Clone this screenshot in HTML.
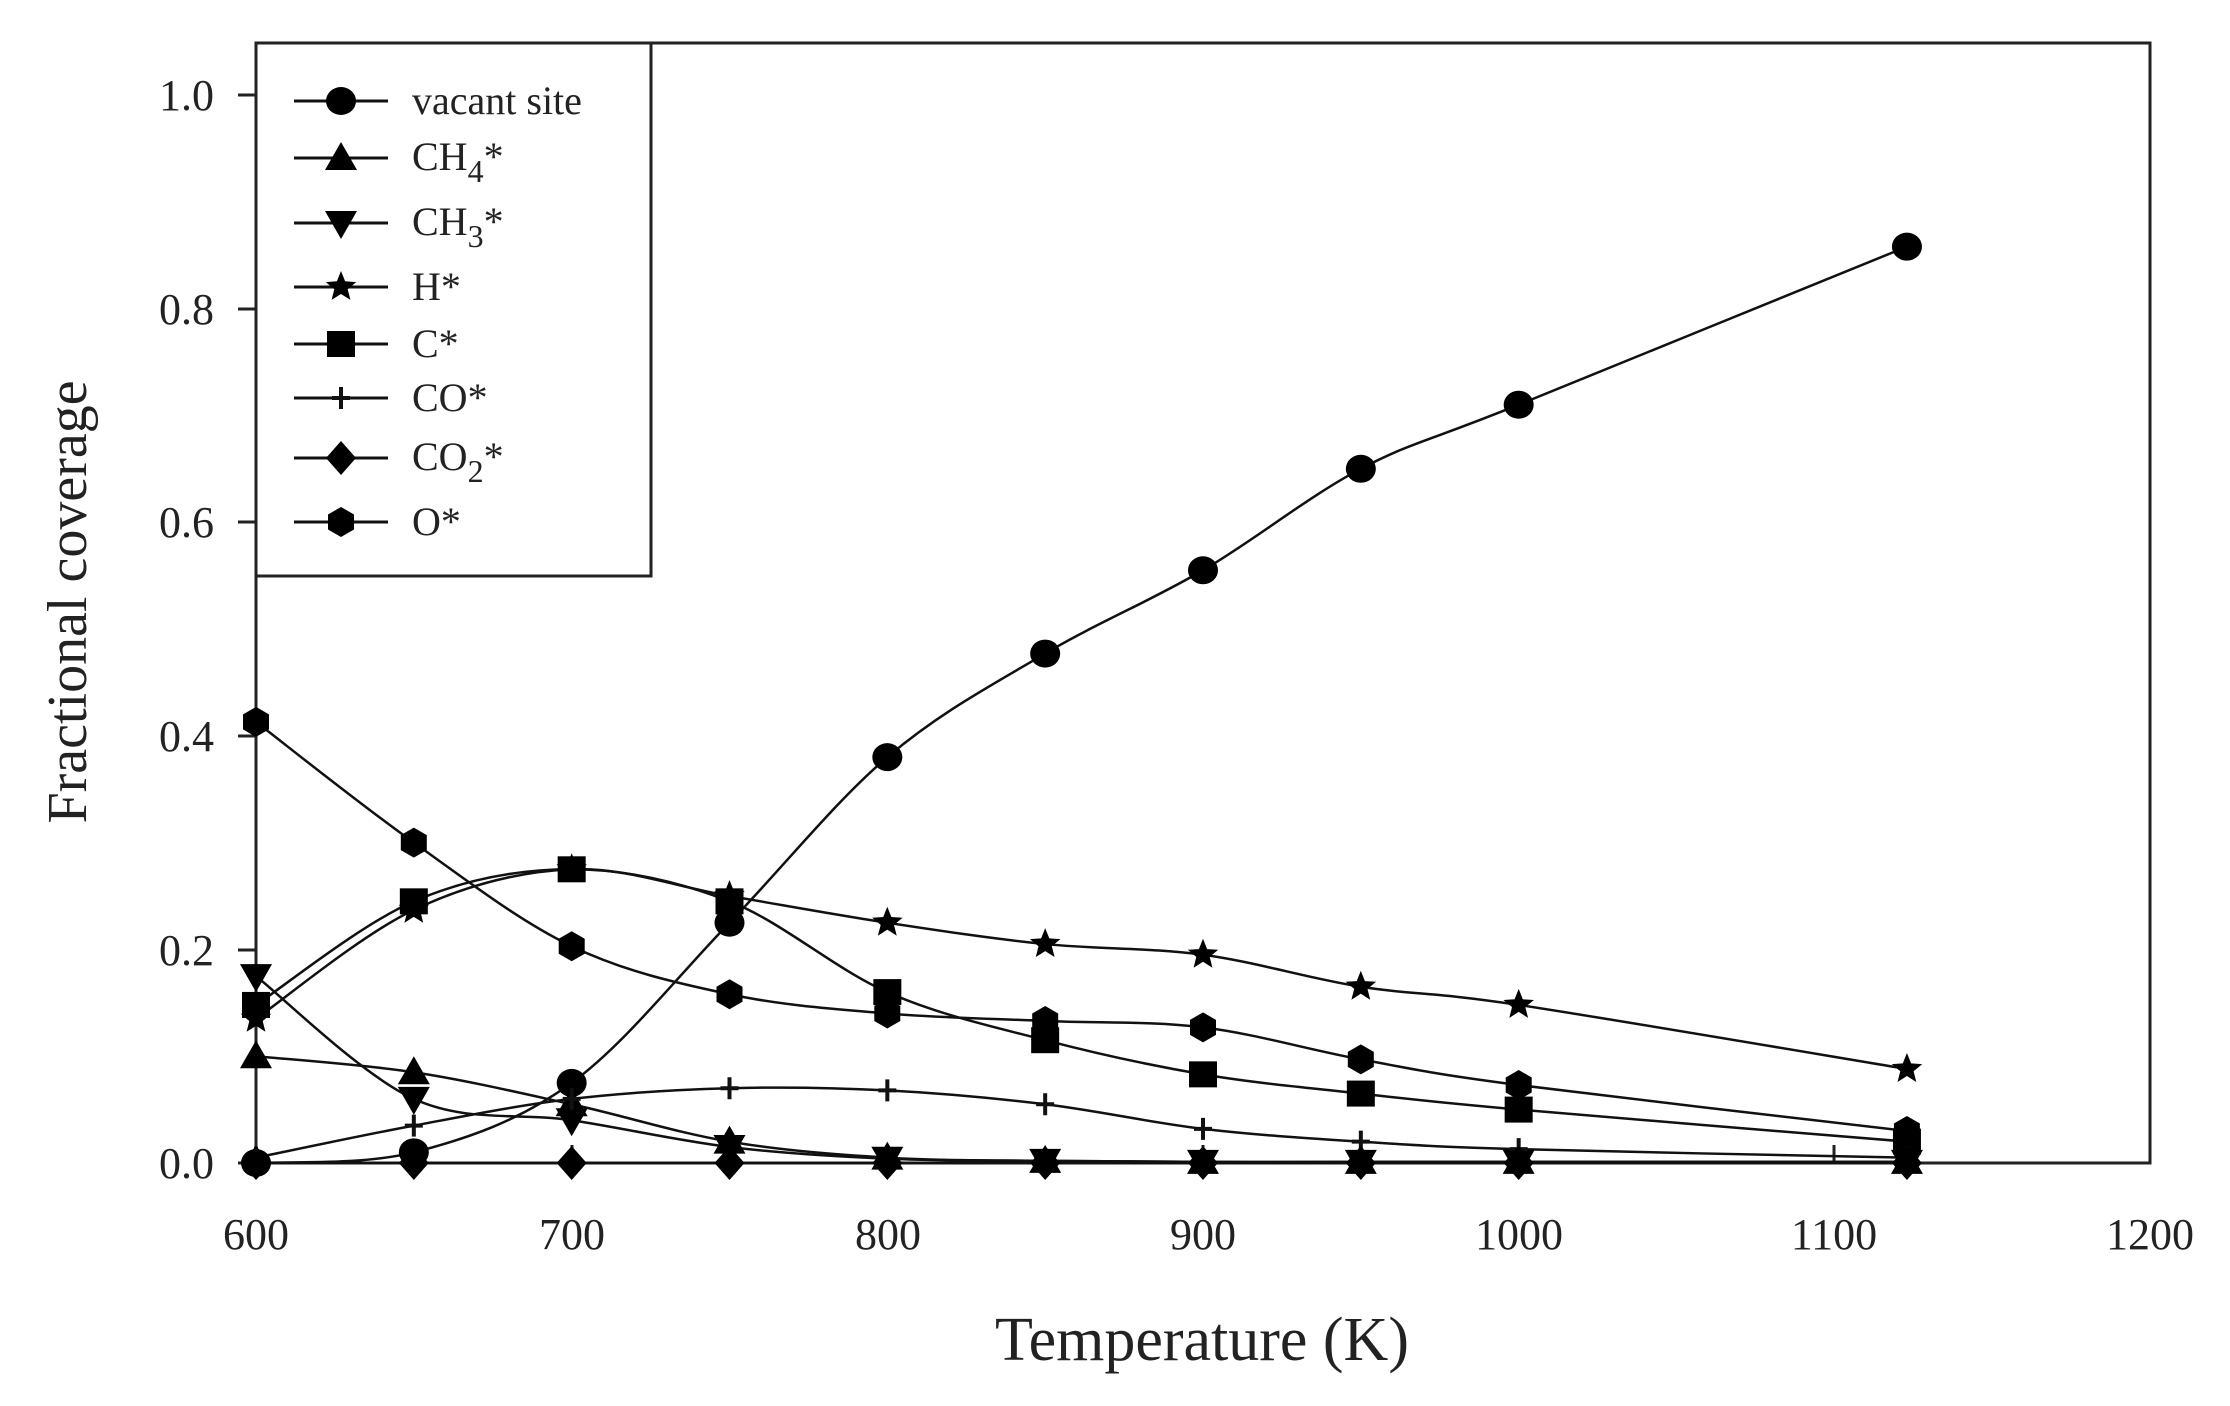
<!DOCTYPE html>
<html><head><meta charset="utf-8"><style>
html,body{margin:0;padding:0;background:#fff;width:2230px;height:1406px;overflow:hidden}
svg text{font-family:"Liberation Serif",serif;fill:#222}
</style></head><body>
<svg id="s" width="2230" height="1406" viewBox="0 0 2230 1406" xmlns="http://www.w3.org/2000/svg">
<rect x="256" y="43" width="1894" height="1120" fill="none" stroke="#222" stroke-width="3"/>
<g stroke="#222" stroke-width="3">
<line x1="238" y1="95" x2="256" y2="95"/><line x1="238" y1="309" x2="256" y2="309"/><line x1="238" y1="522" x2="256" y2="522"/><line x1="238" y1="736" x2="256" y2="736"/><line x1="238" y1="950" x2="256" y2="950"/><line x1="238" y1="1163" x2="256" y2="1163"/>
<line x1="572" y1="1163" x2="572" y2="1145"/><line x1="888" y1="1163" x2="888" y2="1145"/><line x1="1203" y1="1163" x2="1203" y2="1145"/><line x1="1519" y1="1163" x2="1519" y2="1145"/><line x1="1834" y1="1163" x2="1834" y2="1145"/>
</g>
<g font-size="44" text-anchor="end">
<text x="214" y="110">1.0</text><text x="214" y="324">0.8</text><text x="214" y="537">0.6</text><text x="214" y="751">0.4</text><text x="214" y="965">0.2</text><text x="214" y="1178">0.0</text>
</g>
<g font-size="44" text-anchor="middle">
<text x="256" y="1249">600</text><text x="572" y="1249">700</text><text x="888" y="1249">800</text><text x="1203" y="1249">900</text><text x="1519" y="1249">1000</text><text x="1834" y="1249">1100</text><text x="2150" y="1249">1200</text>
</g>
<text x="1202" y="1360" font-size="62" text-anchor="middle">Temperature (K)</text>
<text transform="translate(86,602) rotate(-90)" font-size="56" text-anchor="middle">Fractional coverage</text>
<rect x="256" y="43" width="395" height="533" fill="#fff" stroke="#222" stroke-width="3"/>
<g id="data"></g>
<g id="leg"></g>
<g font-size="40">
<text x="412" y="114">vacant site</text>
<text x="412" y="170">CH<tspan font-size="32" dy="12">4</tspan><tspan dy="-12">*</tspan></text>
<text x="412" y="235">CH<tspan font-size="32" dy="12">3</tspan><tspan dy="-12">*</tspan></text>
<text x="412" y="300">H*</text>
<text x="412" y="357">C*</text>
<text x="412" y="411">CO*</text>
<text x="412" y="470">CO<tspan font-size="32" dy="12">2</tspan><tspan dy="-12">*</tspan></text>
<text x="412" y="535">O*</text>
</g>
</svg>
<script>
var T=[600,650,700,750,800,850,900,950,1000,1123];
function X(t){return 256+(t-600)*1894/600}
function Y(v){return 1163-v*1068}
var S=[
['circle',[0,0.01,0.075,0.225,0.38,0.477,0.555,0.65,0.71,0.858]],
['up',[0.10,0.085,0.055,0.02,0.005,0.002,0.001,0.001,0.001,0.001]],
['down',[0.175,0.06,0.04,0.015,0.004,0.002,0.001,0.001,0.001,0.001]],
['star',[0.135,0.237,0.275,0.25,0.225,0.205,0.195,0.165,0.148,0.088]],
['square',[0.148,0.245,0.275,0.245,0.16,0.115,0.083,0.065,0.05,0.02]],
['plus',[0.005,0.035,0.06,0.07,0.068,0.055,0.032,0.02,0.013,0.005]],
['diamond',[0,0,0,0,0,0,0,0,0,0]],
['hex',[0.413,0.30,0.203,0.158,0.14,0.133,0.127,0.097,0.073,0.03]]
];
function marker(t,x,y){
 switch(t){
 case 'circle':return '<ellipse cx="'+x+'" cy="'+y+'" rx="15" ry="14"/>';
 case 'up':return '<polygon points="'+x+','+(y-16)+' '+(x+16)+','+(y+12)+' '+(x-16)+','+(y+12)+'"/>';
 case 'down':return '<polygon points="'+x+','+(y+16)+' '+(x+16)+','+(y-12)+' '+(x-16)+','+(y-12)+'"/>';
 case 'square':return '<rect x="'+(x-14)+'" y="'+(y-13)+'" width="28" height="26"/>';
 case 'diamond':return '<polygon points="'+x+','+(y-17)+' '+(x+15)+','+y+' '+x+','+(y+17)+' '+(x-15)+','+y+'"/>';
 case 'plus':return '<path d="M'+(x-9)+' '+y+'H'+(x+9)+'M'+x+' '+(y-11)+'V'+(y+11)+'" stroke="#111" stroke-width="4"/>';
 case 'star':{var p=[];for(var i=0;i<10;i++){var r=i%2?7:16,a=-Math.PI/2+i*Math.PI/5;p.push((x+r*Math.cos(a)).toFixed(1)+','+(y+r*Math.sin(a)).toFixed(1));}return '<polygon points="'+p.join(' ')+'"/>';}
 case 'hex':{var p=[];for(var i=0;i<6;i++){var a=Math.PI/6+i*Math.PI/3;p.push((x+15*Math.cos(a)).toFixed(1)+','+(y+15*Math.sin(a)).toFixed(1));}return '<polygon points="'+p.join(' ')+'"/>';}
 }
}
var h='';
S.forEach(function(s){
 var P=T.map(function(t,i){return [X(t),Y(s[1][i])]});
 var d='M'+P[0][0]+' '+P[0][1];
 for(var i=0;i<P.length-1;i++){
  var p0=P[i-1]||P[i],p1=P[i],p2=P[i+1],p3=P[i+2]||P[i+1];
  d+=' C'+(p1[0]+(p2[0]-p0[0])/6)+' '+(p1[1]+(p2[1]-p0[1])/6)+' '+(p2[0]-(p3[0]-p1[0])/6)+' '+(p2[1]-(p3[1]-p1[1])/6)+' '+p2[0]+' '+p2[1];
 }
 h+='<path d="'+d+'" fill="none" stroke="#111" stroke-width="2.5"/>';
});
S.forEach(function(s){T.forEach(function(t,i){h+=marker(s[0],X(t),Y(s[1][i]));});});
document.getElementById('data').innerHTML=h;
var ly=[101,158,223,287,344,398,458,522],l='';
S.forEach(function(s,i){l+='<line x1="294" y1="'+ly[i]+'" x2="388" y2="'+ly[i]+'" stroke="#111" stroke-width="3"/>'+marker(s[0],341,ly[i]);});
document.getElementById('leg').innerHTML=l;
</script>
</body></html>
